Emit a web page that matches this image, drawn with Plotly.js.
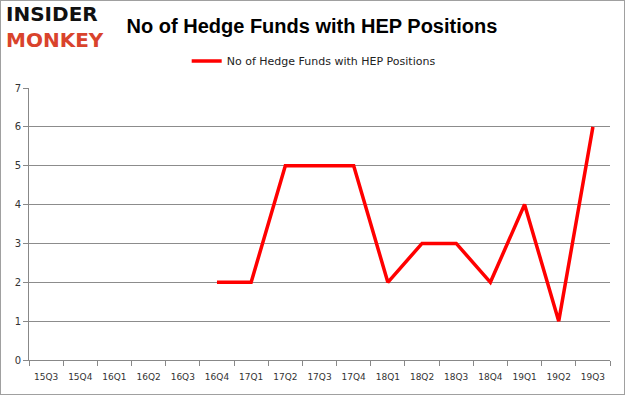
<!DOCTYPE html>
<html>
<head>
<meta charset="utf-8">
<script src="https://cdn.plot.ly/plotly-3.0.1.min.js"></script>
<style>
html,body{margin:0;padding:0;background:#fff;}
#chart{width:625px;height:395px;}
#frame{position:absolute;left:0;top:0;width:623px;height:393px;border:1px solid #a0a0a0;pointer-events:none;}
</style>
</head>
<body>
<div id="chart"></div>
<div id="frame"></div>
<script>
var quarters = ["15Q3","15Q4","16Q1","16Q2","16Q3","16Q4","17Q1","17Q2","17Q3","17Q4","18Q1","18Q2","18Q3","18Q4","19Q1","19Q2","19Q3"];
var hedgeFunds = [null,null,null,null,null,2,2,5,5,5,2,3,3,2,4,1,6];
var seriesName = "No of Hedge Funds with HEP Positions";
var yTicks = [0,1,2,3,4,5,6,7];

var trace = {
  x: quarters,
  y: hedgeFunds,
  type: "scatter",
  mode: "lines",
  name: seriesName,
  line: {color: "#ff0000", width: 3.5},
  connectgaps: false
};

var layout = {
  width: 625,
  height: 395,
  margin: {l: 29, r: 15, t: 88, b: 35},
  paper_bgcolor: "#ffffff",
  plot_bgcolor: "#ffffff",
  showlegend: true,
  legend: {
    orientation: "h",
    x: 0.49, xanchor: "center",
    y: 1.099, yanchor: "middle",
    font: {family: "DejaVu Sans, sans-serif", size: 11, color: "#222"},
    itemwidth: 30
  },
  title: {
    text: "No of Hedge Funds with HEP Positions",
    font: {family: "Liberation Sans, Arial, sans-serif", size: 20, color: "#000", weight: "bold"},
    x: 0.487, xanchor: "center", xref: "paper",
    y: 0.935, yanchor: "middle", yref: "container"
  },
  xaxis: {
    type: "category",
    range: [-0.5, 16.5],
    tickson: "boundaries",
    ticks: "outside",
    ticklen: 5,
    tickcolor: "#888",
    tickangle: 0,
    ticklabelstandoff: 8,
    showgrid: false,
    showline: true,
    linecolor: "#888",
    linewidth: 1,
    tickfont: {family: "DejaVu Sans, sans-serif", size: 9, color: "#333"},
    fixedrange: true
  },
  yaxis: {
    range: [0, 7],
    tickvals: yTicks,
    ticks: "outside",
    ticklen: 5,
    tickcolor: "#888",
    showgrid: true,
    gridcolor: "#8c8c8c",
    gridwidth: 1,
    showline: true,
    linecolor: "#888",
    zeroline: false,
    tickfont: {family: "DejaVu Sans, sans-serif", size: 10, color: "#333"},
    fixedrange: true
  },
  annotations: [
    {text: "INSIDER<br><span style='color:#d9432c'>MONKEY</span>", xref: "paper", yref: "paper",
     x: -0.043, y: 1.225, xanchor: "left", yanchor: "middle", align: "left",
     showarrow: false, font: {family: "DejaVu Sans, sans-serif", size: 20, color: "#111", weight: "bold"}}
  ]
};

Plotly.newPlot("chart", [trace], layout, {displayModeBar: false, staticPlot: true});
</script>
</body>
</html>
